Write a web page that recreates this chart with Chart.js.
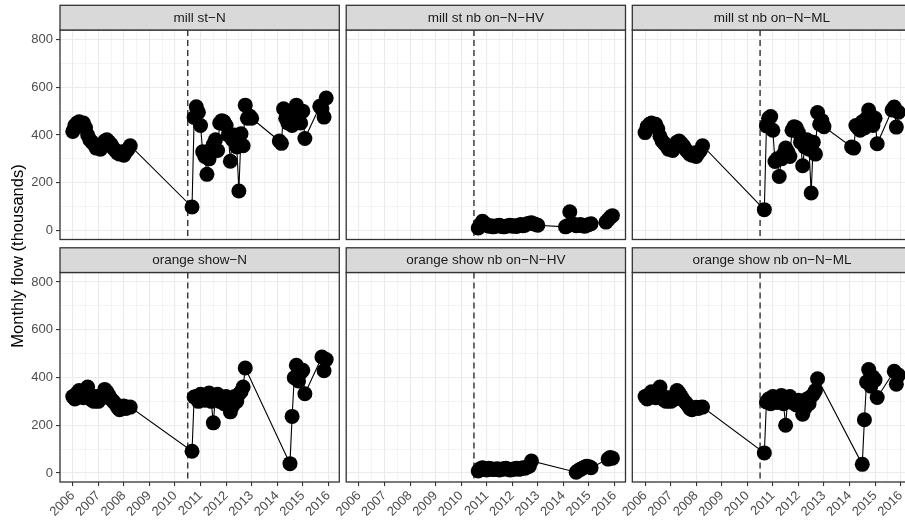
<!DOCTYPE html>
<html>
<head>
<meta charset="utf-8">
<script src="https://cdn.jsdelivr.net/npm/chart.js@4.4.1/dist/chart.umd.min.js"></script>
<style>
  html, body { margin: 0; padding: 0; background: #fff; overflow: hidden; }
  #wrap { position: relative; width: 905px; height: 523px; overflow: hidden; background: #fff; }
  #wrap canvas { position: absolute; left: 0; top: 0; }
</style>
</head>
<body>
<div id="wrap"></div>
<script>
// months with data, one array per stretch
const monthsEarly = ['2006-01','2006-02','2006-03','2006-04','2006-05','2006-06','2006-07','2006-08','2006-09','2006-10','2006-11','2006-12',
  '2007-01','2007-02','2007-03','2007-04','2007-05','2007-06','2007-07','2007-08','2007-09','2007-10','2007-11','2007-12',
  '2008-01','2008-02','2008-03','2008-04']
const monthsMillMid = ['2010-09','2010-10','2010-11','2010-12',
  '2011-01','2011-02','2011-03','2011-04','2011-05','2011-06','2011-07','2011-08','2011-09','2011-10','2011-11','2011-12',
  '2012-01','2012-02','2012-03','2012-04','2012-05','2012-06','2012-07','2012-08','2012-09','2012-10','2012-11','2012-12',
  '2013-01']
const monthsMillLate = ['2014-02','2014-03','2014-04','2014-05','2014-06','2014-07','2014-08','2014-09','2014-10','2014-11','2014-12',
  '2015-01','2015-02','2015-09','2015-10','2015-11','2015-12']
const monthsOrangeMid = ['2010-09','2010-10','2010-11','2010-12',
  '2011-01','2011-02','2011-03','2011-04','2011-05','2011-06','2011-07','2011-08','2011-09','2011-10','2011-11','2011-12',
  '2012-01','2012-02','2012-03','2012-04','2012-05','2012-06','2012-07','2012-08','2012-09','2012-10']
const monthsOrangeLate = ['2014-07','2014-08','2014-09','2014-10','2014-11','2014-12','2015-01','2015-02','2015-10','2015-11','2015-12']

// monthly flow, thousands
const millStN = [415,440,450,455,445,450,430,400,380,370,360,345, 350,340,355,375,380,370,360,345,335,325,320,330, 315,330,340,355,
  98,473,518,495,440,330,310,235,300,340,360,380,335,450,460,455,440,400,290,380,400,350,165,405,355,525,470,480,470,
  375,365,510,470,450,500,440,480,525,490,450,500,385,520,510,475,555]
const millStHV = [10,25,38,30,22,18,20,15,18,20,22,17,15,18,20,22,18,20,17,22,25,20,22,28,30,32,28,25,22,
  15,20,78,30,25,20,22,25,20,18,22,25,28,35,45,55,62]
const millStML = [410,435,445,450,440,445,425,395,375,365,355,340, 345,335,350,370,375,365,355,340,330,320,315,325, 310,325,335,355,
  87,438,470,477,420,289,300,226,300,320,345,330,310,420,435,430,410,370,271,350,380,340,157,370,320,494,445,460,435,
  350,345,440,430,420,455,430,470,505,480,440,470,363,505,517,433,495]
const orangeN = [320,310,335,345,330,315,340,360,330,305,300,320, 300,310,325,350,340,325,310,300,290,275,265,270, 280,270,275,276,
  91,318,320,300,330,310,305,320,335,300,210,320,330,300,310,290,320,300,256,280,320,300,330,340,360,440,
  39,237,399,451,385,420,430,332,486,428,475]
const orangeHV = [8,18,22,15,12,20,18,14,15,18,12,15,18,20,15,12,14,18,20,15,18,22,20,25,28,50,
  3,10,15,20,25,28,26,22,58,65,62]
const orangeML = [320,310,330,340,325,315,345,360,325,305,300,315, 300,305,320,345,335,320,305,295,285,270,265,270, 275,270,275,276,
  84,297,310,290,320,300,295,310,325,290,200,310,320,295,300,285,305,290,246,270,310,290,320,330,345,395,
  36,223,381,433,363,402,390,316,426,372,410]

const panelLabels = ['mill st\u2212N', 'mill st nb on\u2212N\u2212HV', 'mill st nb on\u2212N\u2212ML',
  'orange show\u2212N', 'orange show nb on\u2212N\u2212HV', 'orange show nb on\u2212N\u2212ML']
const cutoverYear = 2010.5
const yTitle = 'Monthly flow (thousands)'

const panels = [
  { months: monthsEarly.concat(monthsMillMid, monthsMillLate), values: millStN },
  { months: monthsMillMid.concat(monthsMillLate), values: millStHV },
  { months: monthsEarly.concat(monthsMillMid, monthsMillLate), values: millStML },
  { months: monthsEarly.concat(monthsOrangeMid, monthsOrangeLate), values: orangeN },
  { months: monthsOrangeMid.concat(monthsOrangeLate), values: orangeHV },
  { months: monthsEarly.concat(monthsOrangeMid, monthsOrangeLate), values: orangeML }
]

const toYear = s => {
  const [y, m] = s.split('-').map(Number)
  return y + (m - 1) / 12
}

const FONT = '"Liberation Sans", Arial, sans-serif'
const colLeft = [60, 346.2, 632.3]
const panelW = 279.3
const rowTop = [30, 272.5]
const panelH = 209.5
const stripH = 24.7
const canvasW = 920, canvasH = 523

const facetPlugin = {
  id: 'facet',
  beforeDatasetsDraw(chart) {
    const { ctx, chartArea: a } = chart
    const px = chart.scales.x.getPixelForValue(cutoverYear)
    ctx.save()
    ctx.beginPath()
    ctx.setLineDash([6, 4])
    ctx.strokeStyle = '#222222'
    ctx.lineWidth = 1.3
    ctx.moveTo(px, a.top)
    ctx.lineTo(px, a.bottom)
    ctx.stroke()
    ctx.restore()
  },
  afterDraw(chart, args, opts) {
    const { ctx, chartArea: a } = chart
    const w = a.right - a.left
    ctx.save()
    ctx.strokeStyle = '#333333'
    ctx.lineWidth = 1.3
    ctx.strokeRect(a.left, a.top, w, a.bottom - a.top)
    ctx.fillStyle = '#D9D9D9'
    ctx.fillRect(a.left, a.top - stripH, w, stripH)
    ctx.strokeRect(a.left, a.top - stripH, w, stripH)
    ctx.fillStyle = '#1A1A1A'
    ctx.font = '13.5px ' + FONT
    ctx.textAlign = 'center'
    ctx.textBaseline = 'middle'
    ctx.fillText(opts.label, a.left + w / 2, a.top - stripH / 2 + 0.5)
    if (opts.showTitle) {
      ctx.translate(18, 256)
      ctx.rotate(-Math.PI / 2)
      ctx.fillStyle = '#000'
      ctx.font = '16.5px ' + FONT
      ctx.fillText(yTitle, 0, 0)
    }
    ctx.restore()
  }
}

const wrap = document.getElementById('wrap')

panels.forEach((p, i) => {
  const row = Math.floor(i / 3), col = i % 3
  const canvas = document.createElement('canvas')
  canvas.width = canvasW
  canvas.height = canvasH
  canvas.style.width = canvasW + 'px'
  canvas.style.height = canvasH + 'px'
  wrap.appendChild(canvas)

  const left = colLeft[col], top = rowTop[row]
  const right = left + panelW, bottom = top + panelH
  const yAxisW = col === 0 ? left : 0
  const xAxisH = row === 1 ? canvasH - bottom : 0

  new Chart(canvas, {
    type: 'line',
    data: {
      datasets: [{
        data: p.months.map((m, k) => ({ x: toYear(m), y: p.values[k] })),
        borderColor: '#000',
        borderWidth: 1.1,
        pointRadius: 7.5,
        pointBackgroundColor: '#000',
        pointBorderWidth: 0,
        tension: 0
      }]
    },
    options: {
      responsive: false,
      animation: false,
      devicePixelRatio: 1,
      events: [],
      layout: {
        padding: { left: left - yAxisW, top: top, right: canvasW - right, bottom: canvasH - bottom - xAxisH }
      },
      plugins: {
        legend: { display: false },
        tooltip: { enabled: false },
        facet: { label: panelLabels[i], showTitle: i === 0 }
      },
      scales: {
        x: {
          type: 'linear',
          min: 2005.5,
          max: 2016.43,
          border: { display: false },
          grid: {
            color: '#EBEBEB',
            lineWidth: c => c.tick && c.tick.value % 1 === 0 ? 1.1 : 0.55,
            drawTicks: row === 1,
            tickLength: 4,
            tickWidth: 1.1,
            tickColor: c => c.tick && c.tick.value % 1 === 0 ? '#333333' : 'rgba(0,0,0,0)'
          },
          ticks: {
            display: row === 1,
            stepSize: 0.5,
            includeBounds: false,
            autoSkip: false,
            maxRotation: 45,
            minRotation: 45,
            padding: 2,
            color: '#4D4D4D',
            font: { size: 13, family: FONT },
            callback: v => v % 1 === 0 ? String(v) : ''
          },
          afterFit: s => { s.height = xAxisH; s.paddingLeft = 0; s.paddingRight = 0 }
        },
        y: {
          min: -38,
          max: 840,
          border: { display: false },
          grid: {
            color: '#EBEBEB',
            lineWidth: c => c.tick && c.tick.value % 200 === 0 ? 1.1 : 0.55,
            drawTicks: col === 0,
            tickLength: 4,
            tickWidth: 1.1,
            tickColor: c => c.tick && c.tick.value % 200 === 0 ? '#333333' : 'rgba(0,0,0,0)'
          },
          ticks: {
            display: col === 0,
            stepSize: 100,
            includeBounds: false,
            autoSkip: false,
            padding: 3,
            color: '#4D4D4D',
            font: { size: 13, family: FONT },
            callback: v => v % 200 === 0 ? String(v) : ''
          },
          afterFit: s => { s.width = yAxisW; s.paddingTop = 0; s.paddingBottom = 0 }
        }
      }
    },
    plugins: [facetPlugin]
  })
})
</script>
</body>
</html>
